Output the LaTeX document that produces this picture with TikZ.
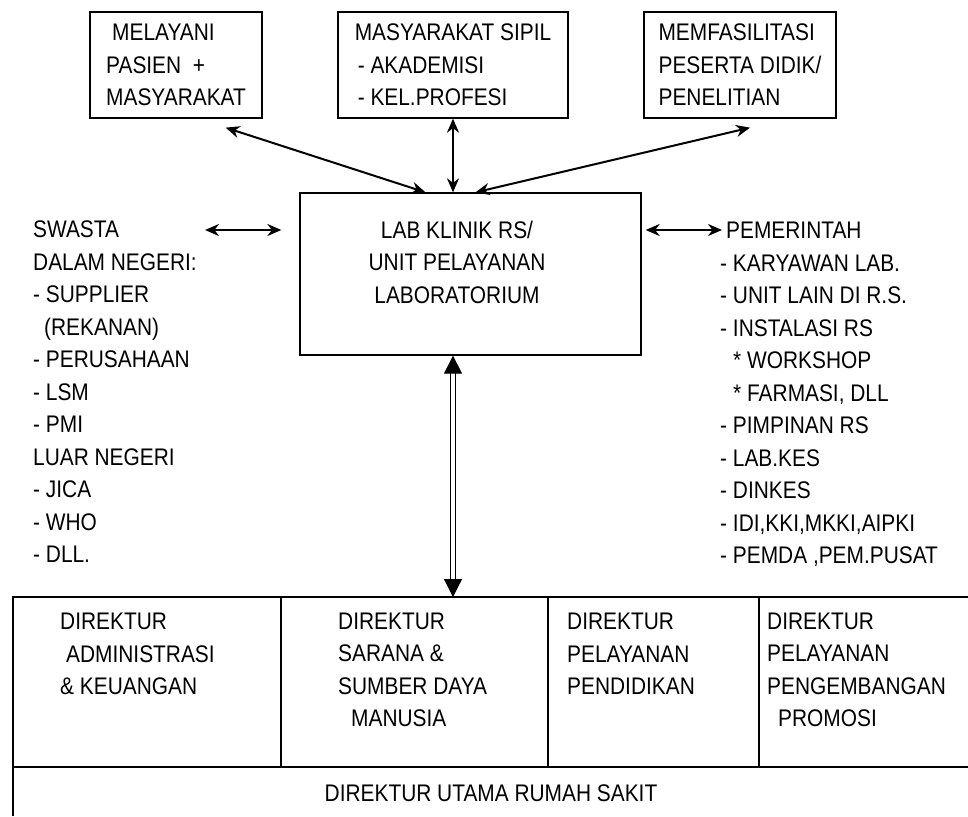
\documentclass[tikz,border=0pt]{standalone}
\usepackage{fontspec}
\setmainfont{Liberation Sans}[FakeStretch=0.87]
\usetikzlibrary{arrows.meta,positioning,calc}

\begin{document}
\begin{tikzpicture}[x=1pt,y=-1pt,
  every node/.style={font=\fontsize{24}{32.5}\selectfont,inner sep=0pt},
  box/.style={draw,line width=1.3pt,align=left},
  lst/.style={align=left,anchor=base west},
  link/.style={<->,>={Stealth[length=14pt,width=12pt]},line width=2pt}]
  \useasboundingbox (0,0) rectangle (968,816);
  % kotak atas
  \node[box,minimum width=172,minimum height=106] (pasien) at (176,65)
    {\hspace*{6pt}MELAYANI\\PASIEN~~+\\MASYARAKAT};
  \node[box,minimum width=230,minimum height=106] (sipil) at (453,65)
    {MASYARAKAT SIPIL\\\hspace*{3pt}- AKADEMISI\\\hspace*{3pt}- KEL.PROFESI};
  \node[box,minimum width=192,minimum height=106] (didik) at (740,65)
    {MEMFASILITASI\\PESERTA DIDIK/\\PENELITIAN};
  % lab klinik
  \node[box,minimum width=341,minimum height=162] (lab) at (470.5,274) {};
  \node[align=center] (labtxt) at (457,262) {LAB KLINIK RS/\\UNIT PELAYANAN\\LABORATORIUM};
  % daftar kiri dan kanan (base = baris terakhir)
  \node[lst] (swasta) at (33,562.5) {SWASTA\\DALAM NEGERI:\\- SUPPLIER\\\hspace*{11pt}(REKANAN)\\- PERUSAHAAN\\- LSM\\- PMI\\LUAR NEGERI\\- JICA\\- WHO\\- DLL.};
  \node[lst] (pemerintah) at (720,563.5) {\hspace*{6pt}PEMERINTAH\\- KARYAWAN LAB.\\- UNIT LAIN DI R.S.\\- INSTALASI RS\\\hspace*{13pt}* WORKSHOP\\\hspace*{13pt}* FARMASI, DLL\\- PIMPINAN RS\\- LAB.KES\\- DINKES\\- IDI,KKI,MKKI,AIPKI\\- PEMDA ,PEM.PUSAT};
  \coordinate (swR) at (205,230);
  \coordinate (pmL) at (722,230);
  % tabel direktur
  \draw[line width=1.3pt] (13,816) -- (13,597) -- (968,597);
  \draw[line width=1.3pt] (13,767) -- (968,767);
  \foreach \cx in {281,548,759}
    \draw[line width=1.3pt] (\cx,597) -- (\cx,767);
  \coordinate (tabtop) at (453,597);
  \node[lst] (dir1) at (60,694.5) {DIREKTUR\\\hspace*{6pt}ADMINISTRASI\\\& KEUANGAN};
  \node[lst] (dir2) at (338,726.5) {DIREKTUR\\SARANA \&\\SUMBER DAYA\\\hspace*{13pt}MANUSIA};
  \node[lst] (dir3) at (567,694.5) {DIREKTUR\\PELAYANAN\\PENDIDIKAN};
  \node[lst] (dir4) at (767,726.5) {DIREKTUR\\PELAYANAN\\PENGEMBANGAN\\\hspace*{11pt}PROMOSI};
  \node (utama) at (491,793) {DIREKTUR UTAMA RUMAH SAKIT};
  % panah
  \draw[link] ($(pasien.south east)+(-37,9)$) -- ($(lab.north)+(-45,0)$);
  \draw[link] (sipil.south) -- (lab.north -| sipil.south);
  \draw[link] ($(didik.south)+(10,9)$) -- ($(lab.north)+(5,0)$);
  \draw[link] (swR) -- ($(lab.west |- swR)+(-18,0)$);
  \draw[link] ($(lab.east |- pmL)+(4,0)$) -- (pmL);
  \draw[<->,>={Triangle[length=18pt,width=18pt]},double,double distance=4pt,line width=1.2pt]
    (lab.south -| tabtop) -- (tabtop);
\end{tikzpicture}
\end{document}
